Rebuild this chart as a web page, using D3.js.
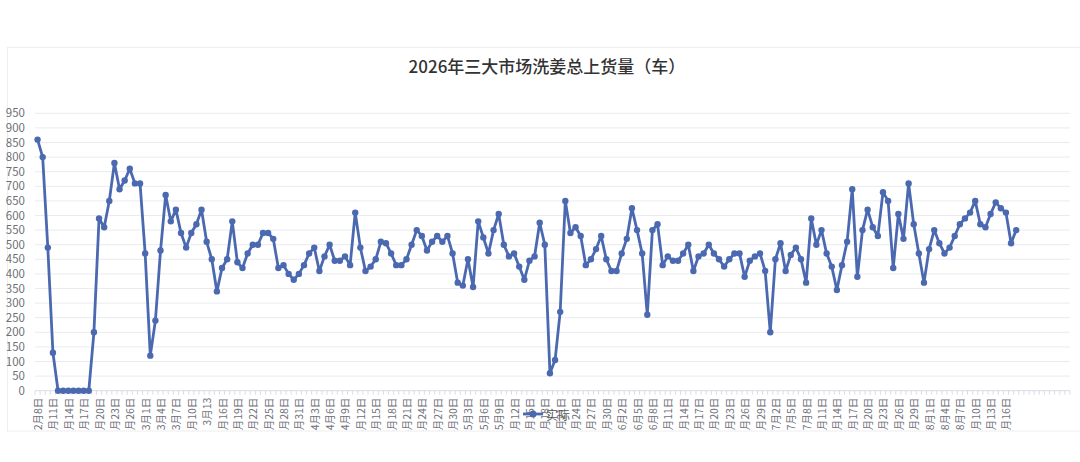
<!DOCTYPE html>
<html>
<head>
<meta charset="utf-8">
<script src="https://cdn.jsdelivr.net/npm/d3@7/dist/d3.min.js"></script>
<style>
  html, body { margin: 0; padding: 0; background: #ffffff; }
  svg { display: block; font-family: "Noto Sans CJK SC", "Noto Sans", sans-serif; }
</style>
</head>
<body>
<svg id="chart" width="1080" height="462"></svg>
<script>
// ---- data ----
const title = "2026年三大市场洗姜总上货量（车）";
const seriesName = "实际";
const startDate = "2026-02-08";
const slotCount = 202;          // category slots on the axis (trailing ones are empty)
const labelOverrides = { 33: "3月13" };
const yTicks = [0,50,100,150,200,250,300,350,400,450,500,550,600,650,700,750,800,850,900,950];

const values = [
  860, 800, 490, 130, 0, 0, 0, 0, 0, 0, 0, 200, 590, 560, 650, 780, 690, 720, 760, 710, 710,
  470, 120, 240, 480, 670, 580, 620, 540, 490, 540, 570, 620, 510, 450, 340, 420, 450, 580, 440,
  420, 470, 500, 500, 540, 540, 520, 420, 430, 400, 380,
  400, 430, 470, 490, 410, 460, 500, 445, 445, 460, 430, 610, 490, 410, 425, 450, 510, 505, 470,
  430, 430, 450, 500, 550, 530, 480, 510, 530, 510, 530,
  470, 370, 360, 450, 355, 580, 525, 470, 550, 605, 500, 460, 470, 425, 380, 445, 460, 575, 500,
  60, 105, 270, 650, 540, 560, 530, 430, 450, 485, 530,
  450, 410, 410, 470, 520, 625, 550, 470, 260, 550, 570, 430, 460, 445, 445, 470, 500, 410, 460,
  470, 500, 470, 450, 425, 450, 470, 470, 390, 445, 460,
  470, 410, 200, 450, 505, 410, 465, 490, 450, 370, 590, 500, 550, 470, 425, 345, 430, 510, 690,
  390, 550, 620, 560, 530, 680, 650, 420, 605, 520, 710,
  570, 470, 370, 485, 550, 505, 470, 490, 530, 570, 590, 610, 650, 570, 560, 605, 645, 625, 610,
  505, 550
];

// category labels: one per day, empty for the padding slots after the data
const fmt = d3.timeFormat("%-m月%-d日");
const start = d3.timeParse("%Y-%m-%d")(startDate);
const categories = d3.range(slotCount).map(i =>
  i < values.length ? (labelOverrides[i] || fmt(d3.timeDay.offset(start, i))) : "");

// ---- layout ----
const svg = d3.select("#chart");
const W = 1080, H = 462;
const pLeft = 35, pRight = 1070, pTop = 113.3, pBottom = 390.7;
const color = "#4b69b0";

// frame
svg.append("rect").attr("x", 7.5).attr("y", 47.5).attr("width", 1100).attr("height", 383.5)
  .attr("fill", "#ffffff").attr("stroke", "#eeeeee");

// title
svg.append("text").attr("x", 547).attr("y", 73).attr("text-anchor", "middle")
  .attr("font-size", 17).attr("font-weight", 500).attr("fill", "#333333").text(title);

const x = d3.scaleBand().domain(d3.range(slotCount)).range([pLeft, pRight]).padding(0);
const y = d3.scaleLinear().domain([0, 950]).range([pBottom, pTop]);

// grid
svg.append("g").selectAll("line").data(yTicks.filter(d => d > 0)).join("line")
  .attr("x1", pLeft).attr("x2", pRight).attr("y1", d => y(d)).attr("y2", d => y(d))
  .attr("stroke", "#e9ebef").attr("stroke-width", 1);

// y axis labels
const yAxis = d3.axisLeft(y).tickValues(yTicks).tickSize(0).tickPadding(10);
const gy = svg.append("g").attr("transform", `translate(${pLeft},0)`).call(yAxis);
gy.select(".domain").remove();
gy.selectAll("text").attr("font-size", 11.5).attr("fill", "#6e7079")
  .attr("font-family", "'Noto Sans CJK SC', sans-serif");

// x axis line + ticks
const gx = svg.append("g");
gx.append("line").attr("x1", pLeft).attr("x2", pRight).attr("y1", pBottom).attr("y2", pBottom)
  .attr("stroke", "#d9dce3");
gx.selectAll("line.tk").data(d3.range(slotCount + 1)).join("line").attr("class", "tk")
  .attr("x1", i => i < slotCount ? x(i) : pRight).attr("x2", i => i < slotCount ? x(i) : pRight)
  .attr("y1", pBottom).attr("y2", pBottom + 4).attr("stroke", "#d9dce3");

// x labels (rotated, clipped by frame bottom)
svg.append("clipPath").attr("id", "lblclip").append("rect")
  .attr("x", 0).attr("y", pBottom + 2).attr("width", W).attr("height", 431 - pBottom - 2);
const gl = svg.append("g").attr("clip-path", "url(#lblclip)");
gl.selectAll("text").data(d3.range(0, slotCount, 3).filter(i => categories[i] !== "")).join("text")
  .attr("transform", i => `translate(${x(i) + x.bandwidth() / 2},${pBottom + 7}) rotate(-90)`)
  .attr("text-anchor", "end").attr("dominant-baseline", "central")
  .attr("font-size", 10.5).attr("fill", "#6e7079").text(i => categories[i]);

// line + markers
const px = i => x(i) + x.bandwidth() / 2;
const line = d3.line().x((d, i) => px(i)).y(d => y(d));
svg.append("path").datum(values).attr("d", line).attr("fill", "none")
  .attr("stroke", color).attr("stroke-width", 2.8).attr("stroke-linejoin", "round");
svg.append("g").selectAll("circle").data(values).join("circle")
  .attr("cx", (d, i) => px(i)).attr("cy", d => y(d)).attr("r", 3.2).attr("fill", color);

// legend
const lg = svg.append("g").attr("transform", "translate(523,414)");
lg.append("line").attr("x1", 0).attr("x2", 20).attr("y1", 0).attr("y2", 0)
  .attr("stroke", color).attr("stroke-width", 2.8);
lg.append("circle").attr("cx", 10).attr("cy", 0).attr("r", 3.5).attr("fill", color);
lg.append("text").attr("x", 23).attr("y", 0).attr("dominant-baseline", "central")
  .attr("font-size", 12).attr("fill", "#555").text(seriesName);
</script>
</body>
</html>
